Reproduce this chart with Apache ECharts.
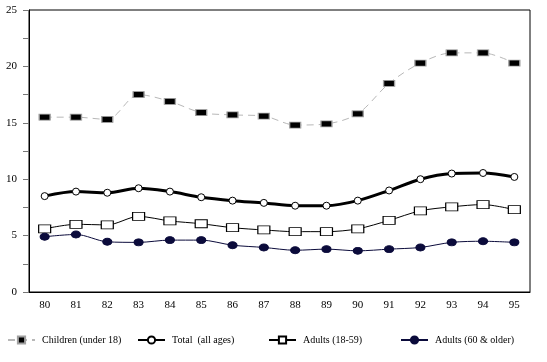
<!DOCTYPE html>
<html>
<head>
<meta charset="utf-8">
<script src="https://cdn.jsdelivr.net/npm/echarts@6/dist/echarts.min.js"></script>
<style>
  html, body { margin: 0; padding: 0; background: #fff; }
  #chart { width: 547px; height: 362px; }
</style>
</head>
<body>
<div id="chart"></div>
<script>
const years = ['80', '81', '82', '83', '84', '85', '86', '87', '88', '89', '90', '91', '92', '93', '94', '95'];

const children = [15.5, 15.5, 15.3, 17.5, 16.9, 15.9, 15.7, 15.6, 14.8, 14.9, 15.8, 18.5, 20.3, 21.2, 21.2, 20.3];
const total = [8.5, 8.9, 8.8, 9.2, 8.9, 8.4, 8.1, 7.9, 7.65, 7.65, 8.1, 9.0, 10.0, 10.5, 10.55, 10.2];
const adults = [5.6, 6.0, 5.95, 6.7, 6.3, 6.05, 5.7, 5.5, 5.35, 5.35, 5.6, 6.35, 7.2, 7.55, 7.75, 7.3];
const elderly = [4.9, 5.1, 4.45, 4.4, 4.6, 4.6, 4.15, 3.95, 3.7, 3.8, 3.65, 3.8, 3.95, 4.4, 4.5, 4.4];

const names = ['Children (under 18)', 'Total  (all ages)', 'Adults (18-59)', 'Adults (60 & older)'];

const font = '"Liberation Serif", "Times New Roman", serif';
const chart = echarts.init(document.getElementById('chart'));

// one legend per item so they sit where the original puts them
const legendLefts = [7, 137, 268, 400];
const legends = names.map((n, i) => ({
    data: [n],
    left: legendLefts[i],
    top: 335,
    padding: 0,
    itemWidth: 27,
    itemHeight: 9,
    textStyle: { fontFamily: font, fontSize: 10, color: '#000', padding: [0, 0, 0, 2] },
    selectedMode: false,
}));

chart.setOption({
    animation: false,
    backgroundColor: '#fff',
    textStyle: { fontFamily: font },
    grid: { left: 29, right: 17, top: 10, bottom: 70, show: true, borderColor: '#000', borderWidth: 1 },
    legend: legends,
    xAxis: {
        type: 'category',
        data: years,
        boundaryGap: true,
        axisLine: { lineStyle: { color: '#000', width: 1 } },
        axisTick: { show: false },
        axisLabel: { fontFamily: font, fontSize: 11, color: '#000', margin: 8 },
    },
    yAxis: {
        type: 'value',
        min: 0,
        max: 25,
        interval: 2.5,
        axisLine: { show: true, lineStyle: { color: '#000', width: 1 } },
        axisTick: { show: true, length: 6, lineStyle: { color: '#777' } },
        splitLine: { show: false },
        axisLabel: {
            fontFamily: font, fontSize: 11, color: '#000', margin: 12,
            formatter: v => (v % 5 === 0 ? String(v) : ''),
        },
    },
    series: [
        {
            name: names[0], type: 'line', data: children, smooth: 0.3,
            symbol: 'rect', symbolSize: [11, 6],
            itemStyle: { color: '#000', borderColor: '#a0a0a0', borderWidth: 1 },
            lineStyle: { color: '#b8b8b8', width: 1, type: [7, 5] },
        },
        {
            name: names[1], type: 'line', data: total, smooth: 0.3,
            symbol: 'circle', symbolSize: 7,
            itemStyle: { color: '#fff', borderColor: '#000', borderWidth: 1 },
            lineStyle: { color: '#000', width: 3 },
        },
        {
            name: names[2], type: 'line', data: adults, smooth: 0.3,
            symbol: 'rect', symbolSize: [12, 8],
            itemStyle: { color: '#fff', borderColor: '#000', borderWidth: 1 },
            lineStyle: { color: '#000', width: 1 },
        },
        {
            name: names[3], type: 'line', data: elderly, smooth: 0.3,
            symbol: 'circle', symbolSize: [9, 7],
            itemStyle: { color: '#0b0b3b', borderColor: '#0b0b3b', borderWidth: 1 },
            lineStyle: { color: '#0b0b3b', width: 1 },
        },
    ],
});
</script>
</body>
</html>
